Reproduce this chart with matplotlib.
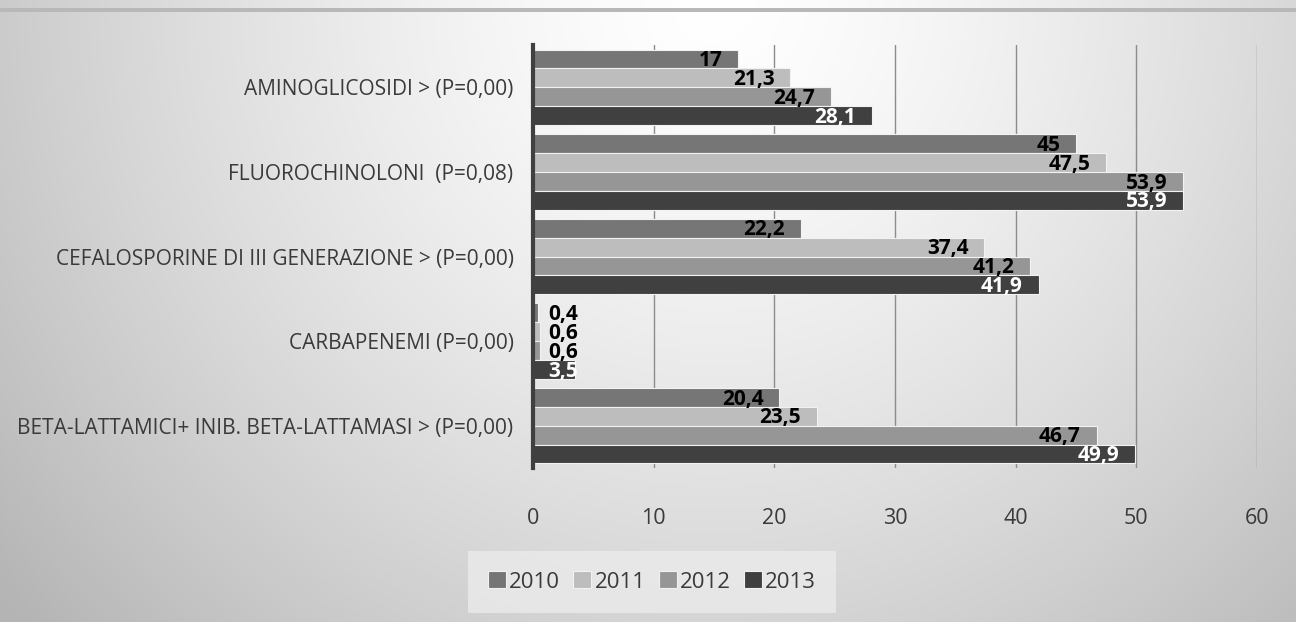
import numpy as np
import matplotlib
matplotlib.use("Agg")
import matplotlib.pyplot as plt
from matplotlib import font_manager
from matplotlib.patches import Rectangle

categories = [
    "AMINOGLICOSIDI > (P=0,00)",
    "FLUOROCHINOLONI  (P=0,08)",
    "CEFALOSPORINE DI III GENERAZIONE > (P=0,00)",
    "CARBAPENEMI (P=0,00)",
    "BETA-LATTAMICI+ INIB. BETA-LATTAMASI > (P=0,00)",
]
years = ["2010", "2011", "2012", "2013"]
v2010 = [17, 45, 22.2, 0.4, 20.4]
v2011 = [21.3, 47.5, 37.4, 0.6, 23.5]
v2012 = [24.7, 53.9, 41.2, 0.6, 46.7]
v2013 = [28.1, 53.9, 41.9, 3.5, 49.9]
series = [v2010, v2011, v2012, v2013]
colors = ["#767676", "#bdbdbd", "#969696", "#404040"]
label_colors = ["black", "black", "black", "white"]
xticks = [0, 10, 20, 30, 40, 50, 60]

names = {f.name for f in font_manager.fontManager.ttflist}
fam = [n for n in ["Liberation Sans Narrow", "DejaVu Sans Condensed", "Open Sans", "DejaVu Sans"] if n in names]
plt.rcParams["font.family"] = fam + ["DejaVu Sans"]

W, H = 1296, 622
fig = plt.figure(figsize=(W / 100, H / 100), dpi=100)

# background gradient
bg = fig.add_axes([0, 0, 1, 1], zorder=-10)
yy, xx = np.mgrid[0:H, 0:W]
dx = (xx - 0.55 * W) / (0.62 * W)
dy = (yy - 0.0 * H) / (1.3 * H)
r = np.sqrt(dx ** 2 + dy ** 2)
val = 1.0 - 0.24 * np.clip(r, 0, 1.15) ** 1.4
bg.imshow(np.dstack([val, val, val]), aspect="auto", extent=[0, 1, 0, 1], origin="upper")
bg.set_xlim(0, 1)
bg.set_ylim(0, 1)
bg.axis("off")
bg.add_patch(Rectangle((0, 1 - 12 / H), 1, 4 / H, color="#b8b8b8", lw=0))

ax = fig.add_axes([533 / W, 1 - 468 / H, (1257 - 533) / W, (468 - 45) / H])
ax.patch.set_alpha(0)

n = len(categories)
nb = len(series)
group_h = 0.89
bh = group_h / nb
ypos = np.arange(n)
for i, (vals, c, lc) in enumerate(zip(series, colors, label_colors)):
    yi = ypos - group_h / 2 + bh * (i + 0.5)
    ax.barh(yi, vals, height=bh, color=c, edgecolor="#f2f2f2", linewidth=0.8, zorder=3, label=years[i])
    for y, v in zip(yi, vals):
        xl = max(v - 1.3, 3.7)
        ax.text(xl, y + 0.02, f"{v:g}".replace(".", ","), ha="right", va="center",
                fontsize=15, fontweight="bold", color=lc, zorder=5)

ax.set_ylim(n - 0.5, -0.5)
ax.set_xlim(0, 60)
ax.set_yticks(ypos)
ax.set_yticklabels(categories, fontsize=15, color="#3a3a3a")
ax.set_xticks(xticks)
ax.set_xticklabels([str(t) for t in xticks], fontsize=15.5, color="#3a3a3a")
ax.tick_params(axis="y", length=0, pad=14)
ax.tick_params(axis="x", length=0, pad=29)
ax.grid(axis="x", color="#8c8c8c", linewidth=1.0, zorder=0)
for s in ["top", "right", "bottom"]:
    ax.spines[s].set_visible(False)
ax.spines["left"].set_color("#404040")
ax.spines["left"].set_linewidth(3)
ax.spines["left"].set_zorder(6)

leg = fig.legend(loc="center", bbox_to_anchor=(652 / W, 1 - 582 / H), ncol=4, frameon=True,
                 fontsize=16, handlelength=0.8, handleheight=0.8, handletextpad=0.15,
                 columnspacing=0.6, borderpad=0.9, fancybox=False)
leg.get_frame().set_facecolor("#ebebeb")
leg.get_frame().set_edgecolor("none")
for t in leg.get_texts():
    t.set_color("#3a3a3a")

fig.savefig("out.png", dpi=100)
